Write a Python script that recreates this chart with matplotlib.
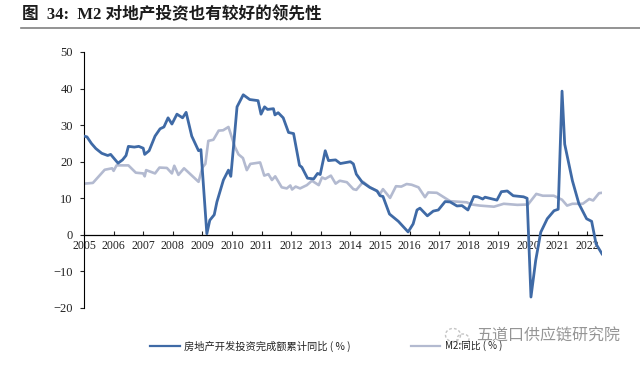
import matplotlib
matplotlib.use('Agg')
import matplotlib.pyplot as plt
from matplotlib.patches import Arc

plt.rcParams['font.family'] = ['Liberation Serif', 'Noto Sans CJK SC', 'DejaVu Sans']

title = '图  34:  M2 对地产投资也有较好的领先性'
label_inv = '房地产开发投资完成额累计同比 ( % )'
label_m2 = 'M2:同比 ( % )'
watermark = '五道口供应链研究院'

years = list(range(2005, 2023))
yticks = [-20, -10, 0, 10, 20, 30, 40, 50]

# decimal year / percent
inv_x = [2005.0, 2005.1, 2005.25, 2005.4, 2005.6, 2005.8, 2005.9, 2006.15, 2006.3, 2006.42,
         2006.5, 2006.7, 2006.85, 2007.0, 2007.05, 2007.2, 2007.4, 2007.57, 2007.7, 2007.84,
         2007.97, 2008.14, 2008.33, 2008.45, 2008.64, 2008.87, 2008.95, 2009.15, 2009.25, 2009.4,
         2009.49, 2009.71, 2009.88, 2009.96, 2010.05, 2010.17, 2010.38, 2010.6, 2010.88, 2010.98,
         2011.1, 2011.2, 2011.4, 2011.45, 2011.56, 2011.73, 2011.91, 2012.08, 2012.28, 2012.36,
         2012.55, 2012.76, 2012.89, 2012.98, 2013.15, 2013.26, 2013.5, 2013.66, 2014.0, 2014.1,
         2014.2, 2014.4, 2014.65, 2014.9, 2015.0, 2015.1, 2015.32, 2015.62, 2015.95, 2016.12,
         2016.25, 2016.35, 2016.6, 2016.8, 2016.97, 2017.2, 2017.37, 2017.6, 2017.77, 2017.97,
         2018.17, 2018.3, 2018.47, 2018.55, 2018.95, 2019.1, 2019.3, 2019.5, 2019.85, 2019.97,
         2020.1, 2020.26, 2020.43, 2020.65, 2020.88, 2021.02, 2021.15, 2021.24, 2021.5, 2021.72,
         2021.98, 2022.15, 2022.3, 2022.5]
inv_y = [27.0, 26.8, 25.0, 23.6, 22.3, 21.7, 22.0, 19.6, 20.5, 21.7,
         24.2, 24.0, 24.2, 23.7, 22.0, 23.0, 27.0, 29.0, 29.5, 32.0,
         30.3, 33.0, 32.0, 33.5, 27.0, 23.0, 23.3, 0.3, 4.0, 5.5,
         9.0, 15.0, 17.7, 16.0, 24.0, 35.0, 38.3, 37.0, 36.7, 33.0,
         35.0, 34.3, 34.5, 32.8, 33.4, 32.0, 28.0, 27.7, 19.0, 18.5,
         15.5, 15.3, 16.8, 16.5, 23.0, 20.3, 20.5, 19.5, 20.0, 19.4,
         16.6, 14.4, 13.0, 12.0, 10.7, 10.5, 5.7, 3.7, 0.8, 3.0,
         6.8, 7.3, 5.2, 6.5, 6.8, 9.1, 9.0, 7.9, 8.0, 6.8,
         10.5, 10.4, 9.8, 10.3, 9.5, 11.8, 12.0, 10.7, 10.4, 10.0,
         -17.0, -7.0, 0.7, 4.4, 6.6, 7.0, 39.3, 24.8, 14.8, 8.5,
         4.4, 3.7, -2.5, -5.2]

m2_x = [2005.0, 2005.3, 2005.5, 2005.7, 2005.95, 2006.0, 2006.1, 2006.5, 2006.75, 2007.0,
        2007.05, 2007.1, 2007.4, 2007.55, 2007.8, 2007.97, 2008.05, 2008.19, 2008.38, 2008.87,
        2009.0, 2009.1, 2009.2, 2009.37, 2009.55, 2009.7, 2009.88, 2010.1, 2010.22, 2010.37,
        2010.5, 2010.62, 2010.95, 2011.09, 2011.23, 2011.35, 2011.46, 2011.68, 2011.85, 2011.97,
        2012.03, 2012.15, 2012.3, 2012.53, 2012.7, 2012.93, 2013.04, 2013.15, 2013.34, 2013.5,
        2013.64, 2013.88, 2014.1, 2014.2, 2014.43, 2014.66, 2014.9, 2015.0, 2015.1, 2015.34,
        2015.54, 2015.72, 2015.9, 2016.07, 2016.3, 2016.52, 2016.63, 2016.92, 2017.37, 2017.93,
        2018.1, 2018.38, 2018.85, 2019.18, 2019.64, 2020.0, 2020.28, 2020.5, 2020.87, 2021.15,
        2021.32, 2021.5, 2021.85, 2022.07, 2022.2, 2022.4, 2022.5]
m2_y = [14.0, 14.2, 16.0, 17.8, 18.2, 17.5, 19.0, 19.0, 17.0, 16.8,
        16.0, 17.7, 16.8, 18.4, 18.3, 16.8, 18.9, 16.4, 18.2, 14.5,
        18.4, 19.4, 25.7, 26.0, 28.5, 28.6, 29.5, 24.0, 22.0, 21.0,
        17.7, 19.4, 19.8, 16.2, 16.6, 15.0, 16.0, 13.0, 12.7, 13.5,
        12.4, 13.2, 12.7, 13.6, 14.8, 13.6, 15.7, 15.3, 16.2, 14.0,
        14.8, 14.4, 12.5, 12.3, 14.5, 13.0, 12.0, 11.2, 12.5, 10.1,
        13.3, 13.2, 13.9, 13.7, 13.0, 10.3, 11.6, 11.5, 9.2, 8.9,
        8.3, 8.0, 7.7, 8.5, 8.2, 8.3, 11.2, 10.7, 10.7, 9.6,
        8.0, 8.5, 8.5, 9.8, 9.4, 11.4, 11.5]

W, H = 640, 365
fig = plt.figure(figsize=(W / 100, H / 100), dpi=100)

# axes box in pixels of the reference
left, right, top, bottom = 84, 602, 52, 308
ax = fig.add_axes([left / W, 1 - bottom / H, (right - left) / W, (bottom - top) / H])

line_m2, = ax.plot(m2_x, m2_y, color='#b3bad0', lw=1.9, zorder=2)
line_inv, = ax.plot(inv_x, inv_y, color='#3f6aa6', lw=2.0, zorder=3)

ax.set_xlim(2005, 2022.5)
ax.set_ylim(-20, 50)
ax.set_yticks(yticks)
ax.set_xticks(years)
ax.spines['top'].set_visible(False)
ax.spines['right'].set_visible(False)
ax.spines['bottom'].set_position(('data', 0))
ax.spines['left'].set_linewidth(0.8)
ax.spines['bottom'].set_linewidth(0.9)
ax.tick_params(axis='x', direction='in', length=3, width=0.8, pad=4, labelsize=8.5, colors='#222222')
ax.tick_params(axis='y', direction='out', length=3, width=0.8, pad=5, labelsize=9, colors='#222222')

fig.text(22 / W, 1 - 15 / H, title, fontsize=12, fontweight='bold', color='#1c1c1c', va='center')
fig.add_artist(plt.Line2D([21 / W, 1], [1 - 27.5 / H, 1 - 27.5 / H], color='#808080', lw=1.2))

leg_y = 1 - 346 / H
fig.add_artist(plt.Line2D([150 / W, 180 / W], [leg_y, leg_y], color=line_inv.get_color(), lw=1.6))
fig.add_artist(plt.Line2D([411 / W, 440 / W], [leg_y, leg_y], color=line_m2.get_color(), lw=1.6))
fig.text(184 / W, leg_y, label_inv, fontsize=7.4, va='center', family=['Noto Sans CJK SC', 'DejaVu Sans'], color='#222222')
fig.text(445 / W, leg_y, label_m2, fontsize=7, va='center', family=['Noto Sans CJK SC', 'DejaVu Sans'], color='#222222')

fig.text(476 / W, 1 - 336 / H, watermark, fontsize=11.5, va='center', family=['Noto Sans CJK SC', 'DejaVu Sans'],
         color='#8a8a8a', alpha=0.9)

# wechat mark next to the watermark, two faint rings
ov = fig.add_axes([0, 0, 1, 1], facecolor='none')
ov.set_xlim(0, W)
ov.set_ylim(H, 0)
ov.axis('off')
ov.add_patch(Arc((453, 335), 15, 13, color='#c4c4c4', lw=1.0, linestyle=(0, (2, 1.5))))
ov.add_patch(Arc((463, 339), 12, 10, color='#c4c4c4', lw=1.0, linestyle=(0, (2, 1.5))))

fig.savefig('out.png', dpi=100)
